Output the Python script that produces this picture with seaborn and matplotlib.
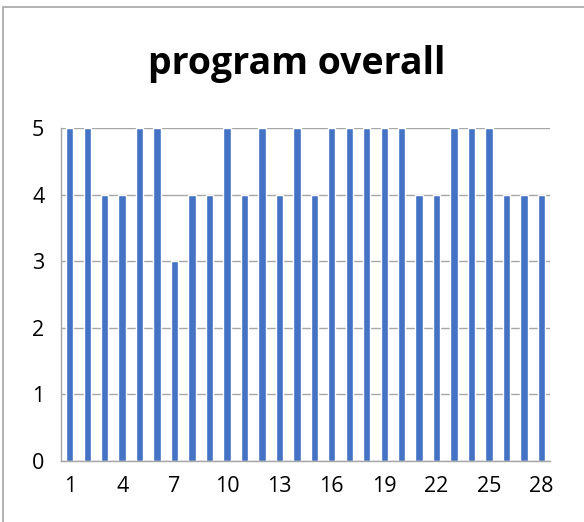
import numpy as np
import pandas as pd
import matplotlib.pyplot as plt
import seaborn as sns
from matplotlib.patches import Rectangle

# data
respondents = list(range(1, 29))
ratings = [5, 5, 4, 4, 5, 5, 3, 4, 4, 5, 4, 5, 4, 5,
           4, 5, 5, 5, 5, 5, 4, 4, 5, 5, 5, 4, 4, 4]
shown_labels = [1, 4, 7, 10, 13, 16, 19, 22, 25, 28]

df = pd.DataFrame({"respondent": respondents, "rating": ratings})

sns.set_style("white")
plt.rcParams["font.family"] = ["Open Sans", "DejaVu Sans"]

fig = plt.figure(figsize=(5.84, 5.22), dpi=100)
ax = fig.add_axes([0.1045, 0.1169, 0.8375, 0.6379])

sns.barplot(data=df, x="respondent", y="rating", color="#4472C4",
            width=0.42, saturation=1, ax=ax)

ax.set_ylim(0, 5)
ax.set_xlim(-0.5, len(respondents) - 0.5)
ax.set_yticks(range(0, 6))
ax.yaxis.grid(True, color="#A6A6A6", linewidth=1, linestyle="-")
ax.set_axisbelow(True)

# tick marks sit at category boundaries, labels every third category
ax.set_xticks(np.arange(-0.5, len(respondents)), labels=[])
ax.set_xticks([respondents.index(v) for v in shown_labels], minor=True)
ax.set_xticklabels([str(v) for v in shown_labels], minor=True)
ax.tick_params(axis="x", which="major", length=6, color="#A6A6A6", width=1)
ax.tick_params(axis="x", which="minor", length=0, pad=11, labelsize=15.5,
               labelcolor="black")
ax.tick_params(axis="y", length=6, color="#A6A6A6", width=1, labelsize=15.5,
               pad=6, labelcolor="black")

for side in ["top", "right"]:
    ax.spines[side].set_visible(False)
for side in ["left", "bottom"]:
    ax.spines[side].set_color("#A6A6A6")
    ax.spines[side].set_linewidth(1)

ax.set_xlabel("")
ax.set_ylabel("")

fig.text(0.508, 0.878, "program overall", ha="center", va="center",
         fontsize=27, fontweight="bold", color="black")

# chart area border
fig.patches.append(Rectangle((0.005, -0.01), 1.0, 0.997, transform=fig.transFigure,
                             fill=False, edgecolor="#A6A6A6", linewidth=1.2))

fig.savefig("out.png", dpi=100)
